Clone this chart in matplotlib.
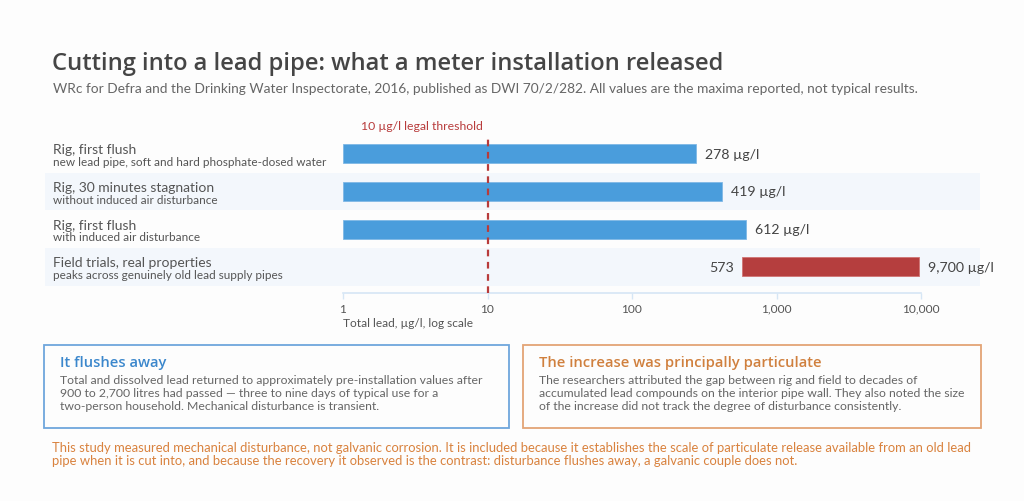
import matplotlib
matplotlib.use("Agg")
import matplotlib.pyplot as plt
from matplotlib.patches import Rectangle
import numpy as np

categories = ["Rig, first flush", "Rig, 30 minutes stagnation", "Rig, first flush", "Field trials, real properties"]
subtitles = ["new lead pipe, soft and hard phosphate-dosed water",
             "without induced air disturbance",
             "with induced air disturbance",
             "peaks across genuinely old lead supply pipes"]
low_values = [1, 1, 1, 573]
high_values = [278, 419, 612, 9700]
high_labels = ["278 µg/l", "419 µg/l", "612 µg/l", "9,700 µg/l"]
low_labels = [None, None, None, "573"]
tick_values = [1, 10, 100, 1000, 10000]
tick_labels = ["1", "10", "100", "1,000", "10,000"]
threshold = 10

BODY = ["Lato", "DejaVu Sans"]
HEAD = ["Open Sans", "DejaVu Sans"]
BLUE = "#4a9ddc"
RED = "#b53e3e"
GREY = "#555555"
DARK = "#444444"
ORANGE = "#d9823e"

W, H = 1024, 502
fig = plt.figure(figsize=(W / 100, H / 100), dpi=100)
fig.patch.set_facecolor("#fdfdfd")

def fx(px):
    return px / W

def fy(py):
    return 1 - py / H

fig.text(fx(52), fy(64), "Cutting into a lead pipe: what a meter installation released",
         family=HEAD, fontsize=17.1, color="#454545", weight="semibold", va="center", ha="left")
fig.text(fx(53), fy(89), "WRc for Defra and the Drinking Water Inspectorate, 2016, published as DWI 70/2/282. All values are the maxima reported, not typical results.",
         family=BODY, fontsize=9.95, color="#666666", va="center", ha="left")

# axes
left_px, right_px, top_px, bot_px = 45, 980, 136, 294
ax = fig.add_axes([fx(left_px), fy(bot_px), fx(right_px - left_px), (bot_px - top_px) / H])
ax.set_facecolor("none")
dec = 144.5
ax.set_xscale("log")
ax.set_xlim(10 ** (-(343 - left_px) / dec), 10 ** ((right_px - 343) / dec))
row = (268 - 155) / 3.0
ylow = -0.5
yhigh = ylow + (bot_px - top_px) / row
ax.set_ylim(yhigh, ylow)

n = len(categories)
for i in range(n):
    if i % 2 == 1:
        ax.axhspan(i - 0.5, i + 0.5, color="#f3f7fc", zorder=0, lw=0)

ypos = np.arange(n)
widths = [h - l for h, l in zip(high_values, low_values)]
bar_colors = [BLUE, BLUE, BLUE, RED]
ax.barh(ypos, widths, left=low_values, height=0.5, color=bar_colors,
        edgecolor=["#7fb8e6", "#7fb8e6", "#7fb8e6", "#d07474"], linewidth=0.6, zorder=2)

for i in range(n):
    ax.text(high_values[i] * 10 ** (9 / dec), ypos[i], high_labels[i], family=BODY,
            fontsize=10.2, color=DARK, va="center", ha="left")
    if low_labels[i]:
        ax.text(low_values[i] / 10 ** (8 / dec), ypos[i], low_labels[i], family=BODY,
                fontsize=10.2, color=DARK, va="center", ha="right")
    ax.text(8 / (right_px - left_px), ypos[i] - 0.12, categories[i], family=BODY,
            fontsize=10, color="#555555", va="center", ha="left", transform=ax.get_yaxis_transform())
    ax.text(8 / (right_px - left_px), ypos[i] + 0.2, subtitles[i], family=BODY,
            fontsize=8.5, color="#555555", va="center", ha="left", transform=ax.get_yaxis_transform())

ax.axvline(threshold, ymin=0, ymax=1.0, color="#b83b3b", ls=(0, (3, 2.5)), lw=1.6, zorder=3, clip_on=False)
ax.set_ylim(yhigh, ylow)
fig.text(fx(483), fy(126), "10 µg/l legal threshold", family=BODY, fontsize=8.8, color="#b83b3b",
         va="center", ha="right")

for s in ["top", "right", "left"]:
    ax.spines[s].set_visible(False)
ax.spines["bottom"].set_bounds(tick_values[0], tick_values[-1])
ax.spines["bottom"].set_color("#d6e6f5")
ax.spines["bottom"].set_linewidth(1.2)
ax.set_yticks([])
ax.set_xticks(tick_values)
ax.set_xticklabels(tick_labels, family=BODY, fontsize=8.6, color=GREY)
ax.xaxis.set_minor_locator(matplotlib.ticker.NullLocator())
ax.tick_params(axis="x", length=4, color="#d6e6f5", width=1, pad=3)
fig.text(fx(343), fy(324), "Total lead, µg/l, log scale", family=BODY, fontsize=8.6, color=GREY,
         va="center", ha="left")

# boxes
def box(x0, x1, y0, y1, ec, title, tcolor, body):
    r = Rectangle((fx(x0), fy(y1)), fx(x1 - x0), (y1 - y0) / H, transform=fig.transFigure,
                  facecolor="none", edgecolor=ec, lw=1.3)
    fig.add_artist(r)
    fig.text(fx(x0 + 16), fy(363), title, family=HEAD, fontsize=10.65, color=tcolor,
             weight="semibold", va="center", ha="left")
    for k, line in enumerate(body):
        fig.text(fx(x0 + 16), fy(381 + k * 12.7), line, family=BODY, fontsize=8.8,
                 color="#666666", va="center", ha="left")

box(44, 509, 346, 429, "#6fa6dc", "It flushes away", "#3b87cc",
    ["Total and dissolved lead returned to approximately pre-installation values after",
     "900 to 2,700 litres had passed — three to nine days of typical use for a",
     "two-person household. Mechanical disturbance is transient."])
box(523, 981, 346, 429, "#e3a475", "The increase was principally particulate", "#d0803e",
    ["The researchers attributed the gap between rig and field to decades of",
     "accumulated lead compounds on the interior pipe wall. They also noted the size",
     "of the increase did not track the degree of disturbance consistently."])

fig.text(fx(52), fy(448), "This study measured mechanical disturbance, not galvanic corrosion. It is included because it establishes the scale of particulate release available from an old lead",
         family=BODY, fontsize=9.4, color=ORANGE, va="center", ha="left")
fig.text(fx(52), fy(461.5), "pipe when it is cut into, and because the recovery it observed is the contrast: disturbance flushes away, a galvanic couple does not.",
         family=BODY, fontsize=9.4, color=ORANGE, va="center", ha="left")

fig.savefig("out.png", dpi=100, facecolor=fig.get_facecolor())
